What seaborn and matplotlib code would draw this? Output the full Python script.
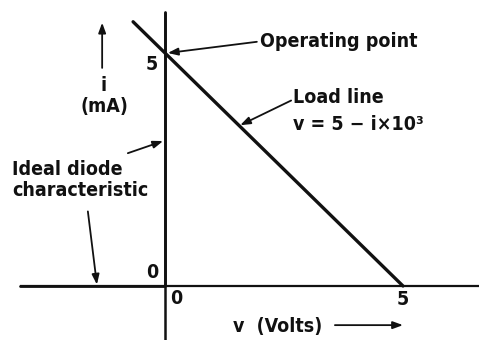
import matplotlib
matplotlib.use("Agg")
import matplotlib.pyplot as plt
import seaborn as sns
import pandas as pd

# Load line v = 5 - i*10^3 (v in volts, i in mA)
load_v = [-0.67, 5.0]
load_i = [5.67, 0.0]
# Ideal diode characteristic: zero current for v < 0, vertical at v = 0
diode_v = [-3.05, 0.0, 0.0]
diode_i = [0.0, 0.0, 5.88]
# Operating point (intersection)
op_v, op_i = 0.0, 5.0
# Axis tick values
x_ticks = [0, 5]
y_ticks = [0, 5]

sns.set_style("white")
plt.rcParams['font.family'] = ['DejaVu Sans']

fig = plt.figure(figsize=(4.79, 3.40), dpi=100)
ax = fig.add_axes([0, 0, 1, 1])
ax.set_xlim(-3.466, 6.597)
ax.set_ylim(-1.159, 6.137)
ax.axis("off")

ink = "#111111"
txt = dict(fontsize=14, fontweight="bold", fontstretch="condensed", color=ink)

# axes lines
ax.plot([-3.05, 6.6], [0, 0], color=ink, lw=1.6, solid_capstyle="butt")
ax.plot([0, 0], [-1.16, 5.88], color=ink, lw=1.8, solid_capstyle="butt")

# diode characteristic (heavier)
diode = pd.DataFrame({"v": diode_v, "i": diode_i})
sns.lineplot(data=diode, x="v", y="i", sort=False, estimator=None, color=ink, lw=2.0, ax=ax)

# load line
load = pd.DataFrame({"v": load_v, "i": load_i})
sns.lineplot(data=load, x="v", y="i", sort=False, estimator=None, color=ink, lw=2.4, ax=ax)

# tick labels
ax.text(-0.27, y_ticks[1] - 0.25, str(y_ticks[1]), ha="center", va="center", **txt)
ax.text(-0.27, y_ticks[0] + 0.28, str(y_ticks[0]), ha="center", va="center", **txt)
ax.text(x_ticks[0] + 0.23, -0.26, str(x_ticks[0]), ha="center", va="center", **txt)
ax.text(x_ticks[1], -0.28, str(x_ticks[1]), ha="center", va="center", **txt)

arrow = dict(arrowstyle="-|>,head_length=0.6,head_width=0.22", color=ink, lw=1.3,
             shrinkA=0, shrinkB=0)

# y axis label with arrow
ax.annotate("", xy=(-1.32, 5.65), xytext=(-1.32, 4.68), arrowprops=arrow)
ax.text(-1.30, 4.30, "i", ha="center", va="center", **txt)
ax.text(-1.28, 3.86, "(mA)", ha="center", va="center", **txt)

# x axis label with arrow
ax.text(2.37, -0.88, "v  (Volts)", ha="center", va="center", **txt)
ax.annotate("", xy=(5.0, -0.84), xytext=(3.57, -0.84), arrowprops=arrow)

# operating point
ax.text(1.99, 5.24, "Operating point", ha="left", va="center", **txt)
ax.annotate("", xy=(op_v + 0.06, op_i), xytext=(1.93, 5.24), arrowprops=arrow)

# load line label
ax.text(2.69, 4.05, "Load line", ha="left", va="center", **txt)
ax.text(2.69, 3.46, "v = 5 \u2212 i\u00d710\u00b3", ha="left", va="center", **txt)
ax.annotate("", xy=(1.58, 3.45), xytext=(2.65, 3.98), arrowprops=arrow)

# ideal diode label
ax.text(-3.21, 2.50, "Ideal diode", ha="left", va="center", **txt)
ax.text(-3.21, 2.05, "characteristic", ha="left", va="center", **txt)
ax.annotate("", xy=(-0.04, 3.11), xytext=(-0.78, 2.85), arrowprops=arrow)
ax.annotate("", xy=(-1.43, 0.03), xytext=(-1.62, 1.60), arrowprops=arrow)

fig.savefig("out.png", dpi=100, facecolor="white")
